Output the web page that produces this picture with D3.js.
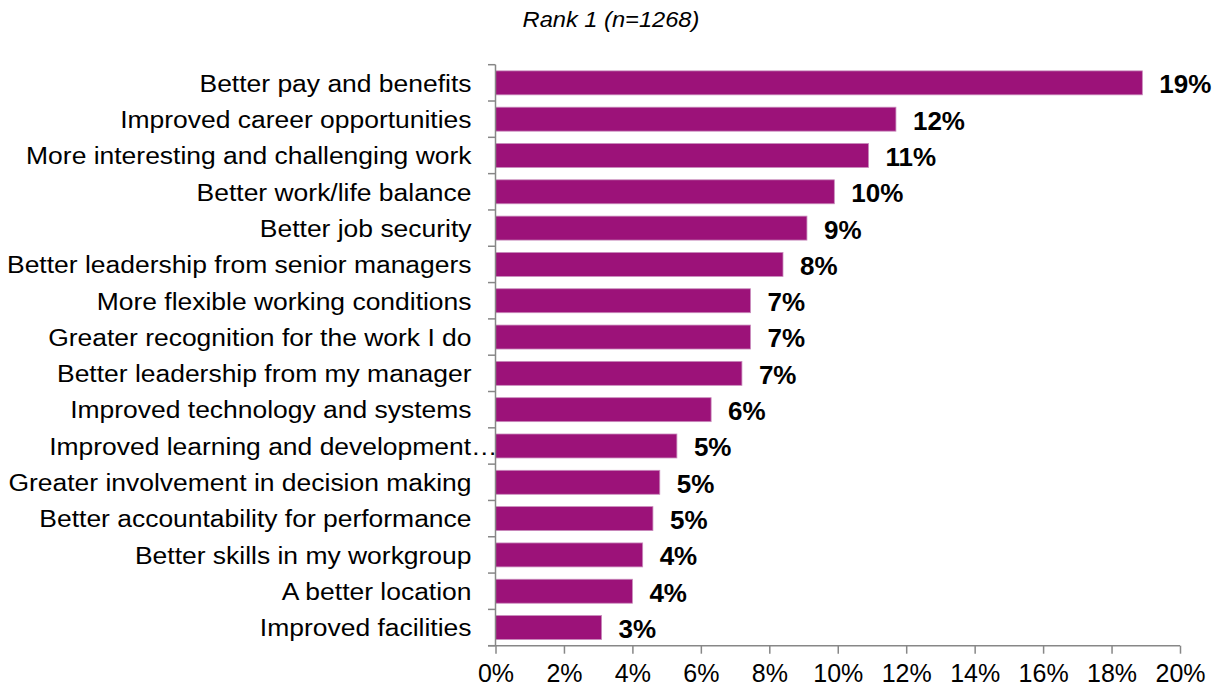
<!DOCTYPE html>
<html>
<head>
<meta charset="utf-8">
<script src="https://cdn.jsdelivr.net/npm/d3@7"></script>
<style>
  html, body { margin: 0; padding: 0; background: #fff; }
  svg { display: block; font-family: "Liberation Sans", Arial, sans-serif; }
</style>
</head>
<body>
<svg id="chart" width="1213" height="690"></svg>
<script>
// Reasons ranked first (share of respondents, %)
const categories = [
  "Better pay and benefits",
  "Improved career opportunities",
  "More interesting and challenging work",
  "Better work/life balance",
  "Better job security",
  "Better leadership from senior managers",
  "More flexible working conditions",
  "Greater recognition for the work I do",
  "Better leadership from my manager",
  "Improved technology and systems",
  "Improved learning and development…",
  "Greater involvement in decision making",
  "Better accountability for performance",
  "Better skills in my workgroup",
  "A better location",
  "Improved facilities"
];
const values = [18.9, 11.7, 10.9, 9.9, 9.1, 8.4, 7.45, 7.45, 7.2, 6.3, 5.3, 4.8, 4.6, 4.3, 4.0, 3.1];
const xTicks = [0, 2, 4, 6, 8, 10, 12, 14, 16, 18, 20];
const title = "Rank 1 (n=1268)";

const svg = d3.select("#chart");
const plotLeft = 495.5, plotRight = 1180, plotTop = 64.7, plotBottom = 645.7;
const axisColor = "#878787";
const barColor = "#9c1279";

const x = d3.scaleLinear().domain([0, 20]).range([plotLeft, plotRight]);
const y = d3.scaleBand().domain(categories).range([plotTop, plotBottom])
  .paddingInner(0.34).paddingOuter(0.17);

const data = categories.map((c, i) => ({ cat: c, v: values[i] }));

// title
svg.append("text")
  .attr("transform", `translate(611,26.5) scale(1.1,1)`)
  .attr("text-anchor", "middle")
  .attr("font-style", "italic")
  .attr("font-size", 21.5)
  .attr("fill", "#000")
  .text(title);

// bars
svg.append("g").selectAll("rect").data(data).join("rect")
  .attr("x", x(0))
  .attr("y", d => y(d.cat))
  .attr("width", d => x(d.v) - x(0))
  .attr("height", y.bandwidth())
  .attr("fill", barColor)
  .attr("stroke", "#c98cbc")
  .attr("stroke-width", 0.8);

// value labels
svg.append("g").selectAll("text").data(data).join("text")
  .attr("x", d => x(d.v) + 17)
  .attr("y", d => y(d.cat) + y.bandwidth() / 2)
  .attr("dy", "0.4em")
  .attr("font-size", 26)
  .attr("font-weight", "bold")
  .attr("fill", "#000")
  .text(d => d3.format(".0f")(d.v) + "%");

// category axis: line plus ticks on band boundaries
const gy = svg.append("g");
gy.append("line")
  .attr("x1", plotLeft).attr("x2", plotLeft)
  .attr("y1", plotTop).attr("y2", plotBottom)
  .attr("stroke", axisColor).attr("stroke-width", 1.5);
gy.selectAll("line.tick").data(d3.range(categories.length + 1)).join("line")
  .attr("class", "tick")
  .attr("x1", plotLeft - 7.5).attr("x2", plotLeft)
  .attr("y1", i => plotTop + i * y.step())
  .attr("y2", i => plotTop + i * y.step())
  .attr("stroke", axisColor).attr("stroke-width", 1.5);
gy.selectAll("text").data(categories).join("text")
  .attr("transform", c => {
    const ax = c.endsWith("…") ? plotLeft + 2 : plotLeft - 24;
    const ay = y(c) + y.bandwidth() / 2 + 8.8;
    return `translate(${ax},${ay}) scale(1.08,1)`;
  })
  .attr("text-anchor", "end")
  .attr("font-size", 24.5)
  .attr("fill", "#000")
  .text(c => c);

// value axis
const xAxis = d3.axisBottom(x)
  .tickValues(xTicks)
  .tickSize(8)
  .tickSizeOuter(0)
  .tickPadding(6)
  .tickFormat(d => d + "%");
const gx = svg.append("g")
  .attr("transform", `translate(0,${plotBottom})`)
  .call(xAxis);
gx.select(".domain").attr("stroke", axisColor).attr("stroke-width", 1.5)
  .attr("d", `M${plotLeft - 7.5},0H${plotRight}`);
gx.selectAll(".tick line").attr("stroke", axisColor).attr("stroke-width", 1.5);
gx.selectAll(".tick text")
  .attr("font-size", 25)
  .attr("font-family", "\"Liberation Sans\", Arial, sans-serif")
  .attr("fill", "#000")
  .attr("dy", "0.9em");
</script>
</body>
</html>
